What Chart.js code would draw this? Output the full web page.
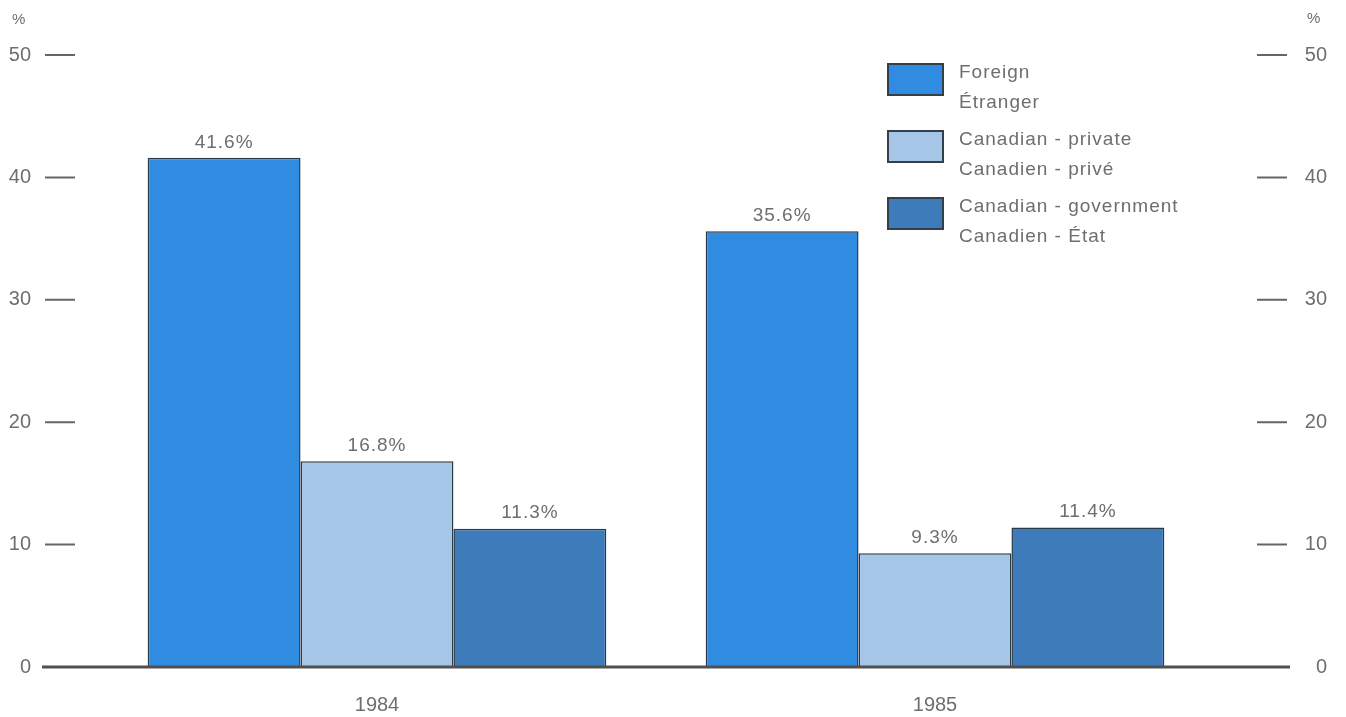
<!DOCTYPE html>
<html lang="en">
<head>
<meta charset="UTF-8">
<script src="https://cdn.jsdelivr.net/npm/chart.js@4"></script>
<title>Foreign / Canadian shares</title>
<style>
  html, body { margin: 0; padding: 0; background: #fff; }
  #wrap { width: 1346px; height: 717px; }
</style>
</head>
<body>
<div id="wrap"><canvas id="barChart" width="1346" height="717"></canvas></div>
<script>
var years = ['1984', '1985'];
var foreign = [41.6, 35.6];
var privateCdn = [16.8, 9.3];
var government = [11.3, 11.4];
var legendLines = [
    ['Foreign', 'Étranger'],
    ['Canadian - private', 'Canadien - privé'],
    ['Canadian - government', 'Canadien - État']
];
var yTicks = [0, 10, 20, 30, 40, 50];

var textGrey = '#6e6e6e';
var fontFam = '"Liberation Sans", Arial, sans-serif';

// tick marks, base line, % units, value labels and the two-line legend
var decor = {
    id: 'decor',
    afterDatasetsDraw: function (chart) {
        var ctx = chart.ctx;
        var area = chart.chartArea;
        var y = chart.scales.y;
        ctx.save();
        ctx.strokeStyle = '#666';
        ctx.lineWidth = 2;
        yTicks.forEach(function (v) {
            var py = y.getPixelForValue(v);
            ctx.beginPath();
            ctx.moveTo(area.left - 53, py); ctx.lineTo(area.left - 23, py);
            ctx.moveTo(area.right + 43, py); ctx.lineTo(area.right + 73, py);
            ctx.stroke();
        });
        // base line
        var p0 = y.getPixelForValue(0);
        ctx.strokeStyle = '#505050';
        ctx.lineWidth = 3;
        ctx.beginPath();
        ctx.moveTo(area.left - 56, p0); ctx.lineTo(area.right + 76, p0);
        ctx.stroke();

        ctx.fillStyle = textGrey;
        ctx.font = '15px ' + fontFam;
        ctx.textAlign = 'left';
        ctx.textBaseline = 'middle';
        ctx.fillText('%', 12, 20);
        ctx.fillText('%', 1307, 19);

        ctx.letterSpacing = '1px';
        // value labels
        ctx.font = '19px ' + fontFam;
        ctx.textAlign = 'center';
        ctx.textBaseline = 'bottom';
        chart.data.datasets.forEach(function (ds, i) {
            chart.getDatasetMeta(i).data.forEach(function (bar, j) {
                ctx.fillText(ds.data[j].toFixed(1) + '%', bar.x, bar.y - 6);
            });
        });

        // legend
        ctx.textAlign = 'left';
        ctx.textBaseline = 'middle';
        chart.data.datasets.forEach(function (ds, i) {
            var top = 64 + i * 67;
            ctx.fillStyle = ds.backgroundColor;
            ctx.fillRect(888, top, 55, 31);
            ctx.strokeStyle = '#33404c';
            ctx.lineWidth = 2;
            ctx.strokeRect(888, top, 55, 31);
            ctx.fillStyle = textGrey;
            ctx.fillText(legendLines[i][0], 959, top + 9);
            ctx.fillText(legendLines[i][1], 959, top + 39);
        });
        ctx.restore();
    }
};

function fixY(width) {
    return function (s) {
        s.width = width;
        s.paddingTop = 12;
        s.paddingBottom = 12;
    };
}

new Chart(document.getElementById('barChart'), {
    type: 'bar',
    data: {
        labels: years,
        datasets: [
            { label: legendLines[0].join(' / '), data: foreign, backgroundColor: '#2f8ce0', borderColor: '#2c3a48', borderWidth: 1.5 },
            { label: legendLines[1].join(' / '), data: privateCdn, backgroundColor: '#a6c6e8', borderColor: '#2c3a48', borderWidth: 1.5 },
            { label: legendLines[2].join(' / '), data: government, backgroundColor: '#3d7bba', borderColor: '#2c3a48', borderWidth: 1.5 }
        ]
    },
    options: {
        responsive: false,
        animation: false,
        layout: { padding: { top: 55, right: 19, bottom: 0, left: 0 } },
        plugins: { legend: { display: false }, tooltip: { enabled: false } },
        datasets: { bar: { categoryPercentage: 0.822, barPercentage: 1.0 } },
        scales: {
            x: {
                afterFit: function (s) { s.height = 50; },
                grid: { display: false, drawTicks: false },
                border: { display: false },
                ticks: { color: textGrey, padding: 26, font: { size: 20, family: fontFam } }
            },
            y: {
                position: 'left',
                min: 0, max: 50,
                afterBuildTicks: function (s) { s.ticks = yTicks.map(function (v) { return { value: v }; }); },
                afterFit: fixY(98),
                grid: { display: false, drawTicks: false },
                border: { display: false },
                ticks: { color: textGrey, padding: 67, font: { size: 20, family: fontFam } }
            },
            y2: {
                position: 'right',
                min: 0, max: 50,
                afterBuildTicks: function (s) { s.ticks = yTicks.map(function (v) { return { value: v }; }); },
                afterFit: fixY(113),
                grid: { display: false, drawTicks: false },
                border: { display: false },
                ticks: { color: textGrey, crossAlign: 'far', font: { size: 20, family: fontFam } }
            }
        }
    },
    plugins: [decor]
});
</script>
</body>
</html>
